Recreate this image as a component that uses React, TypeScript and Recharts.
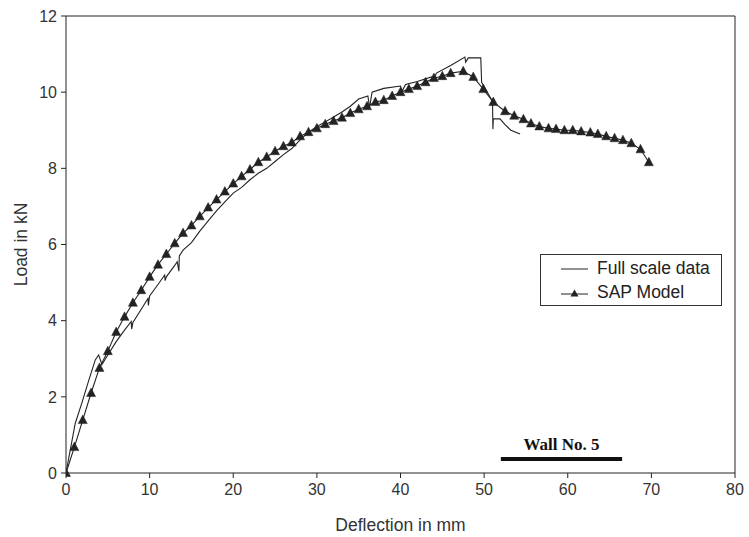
import React from 'react';
import { LineChart, Line, XAxis, YAxis, ReferenceLine } from 'recharts';

// Full scale test: deflection (mm) vs load (kN)
const fullX = [0, 1.1, 1.9, 2.75, 3.5, 3.9, 4.3, 5, 6, 7, 7.8, 7.85, 8, 9, 9.8, 9.85, 10, 11, 11.8, 11.85, 12, 13, 13.3, 13.5, 13.55, 14, 15, 16, 17, 18, 19, 20, 21, 22, 23, 24, 25, 26, 27, 28, 29, 30, 31, 32, 33, 34, 35, 36.1, 36.3, 36.6, 38, 40, 40.2, 40.6, 42, 43.7, 43.9, 44.3, 46, 47.7, 47.8, 48.1, 49.6, 49.7, 51, 51.05, 51.1, 51.9, 52.5, 53.2, 54.3];
const fullY = [0, 1.3, 1.84, 2.45, 2.97, 3.1, 2.85, 3.1, 3.45, 3.75, 3.98, 3.78, 3.95, 4.3, 4.58, 4.4, 4.65, 4.95, 5.2, 5.05, 5.15, 5.45, 5.55, 5.3, 5.7, 5.85, 6.05, 6.35, 6.62, 6.88, 7.12, 7.35, 7.5, 7.7, 7.87, 8.0, 8.18, 8.36, 8.52, 8.75, 8.95, 9.1, 9.22, 9.35, 9.48, 9.63, 9.82, 9.9, 9.6, 10.0, 10.1, 10.16, 10.03, 10.2, 10.28, 10.4, 10.3, 10.5, 10.7, 10.92, 10.79, 10.9, 10.9, 10.26, 9.76, 9.03, 9.3, 9.3, 9.15, 9.0, 8.9];

// SAP model
const sapX = [0, 1, 2, 3, 4, 5, 6, 7, 8, 9, 10, 11, 12, 13, 14, 15, 16, 17, 18, 19, 20, 21, 22, 23, 24, 25, 26, 27, 28, 29, 30, 31, 32, 33, 34, 35, 36, 37, 38, 39, 40, 41, 42, 43, 44, 45, 46, 47.5, 48.7, 49.9, 51.1, 52.5, 53.6, 54.7, 55.6, 56.6, 57.7, 58.6, 59.6, 60.6, 61.6, 62.7, 63.6, 64.6, 65.6, 66.6, 67.6, 68.7, 69.7];
const sapY = [0, 0.68, 1.39, 2.1, 2.76, 3.2, 3.7, 4.1, 4.47, 4.8, 5.15, 5.47, 5.75, 6.03, 6.3, 6.5, 6.74, 6.97, 7.18, 7.39, 7.6, 7.79, 7.97, 8.16, 8.3, 8.45, 8.58, 8.68, 8.84, 8.95, 9.05, 9.16, 9.24, 9.33, 9.45, 9.55, 9.63, 9.74, 9.79, 9.9, 10.0, 10.08, 10.16, 10.26, 10.37, 10.42, 10.5, 10.55, 10.4, 10.08, 9.74, 9.5, 9.38, 9.29, 9.18, 9.1, 9.05, 9.03, 9.0, 9.0, 8.97, 8.94, 8.9, 8.84, 8.79, 8.74, 8.66, 8.5, 8.16];

const xTicks = [0, 10, 20, 30, 40, 50, 60, 70, 80];
const yTicks = [0, 2, 4, 6, 8, 10, 12];

const fullData = fullX.map((x, i) => ({ x, y: fullY[i] }));
const sapData = sapX.map((x, i) => ({ x, y: sapY[i] }));

const FONT = '"Liberation Sans", Arial, sans-serif';
const INK = '#222';

const Triangle = (props: any) => {
  const { cx, cy, index } = props;
  if (cx == null || cy == null) return <g key={`t-${index}`} />;
  return (
    <path
      key={`t-${index}`}
      d={`M${cx},${cy - 5} L${cx - 4.5},${cy + 3.5} L${cx + 4.5},${cy + 3.5} Z`}
      fill={INK}
      stroke={INK}
      strokeWidth={0.5}
    />
  );
};

// legend drawn as an overlay so it doesn't eat chart space
const LegendBox = () => (
  <div style={{
    position: 'absolute', left: 540, top: 254, width: 182, height: 52,
    border: '1px solid #333', background: '#fff',
    fontFamily: FONT, fontSize: 17.5, color: INK, boxSizing: 'border-box',
    paddingTop: 2, lineHeight: 1
  }}>
    <div style={{ display: 'flex', alignItems: 'center', height: 24 }}>
      <svg width={56} height={12}>
        <line x1={20} y1={6} x2={47} y2={6} stroke={INK} strokeWidth={1} />
      </svg>
      <span>Full scale data</span>
    </div>
    <div style={{ display: 'flex', alignItems: 'center', height: 24 }}>
      <svg width={56} height={12}>
        <line x1={20} y1={7} x2={47} y2={7} stroke={INK} strokeWidth={1} />
        <path d="M33.5,2.5 L29.5,9.5 L37.5,9.5 Z" fill={INK} />
      </svg>
      <span>SAP Model</span>
    </div>
  </div>
);

export default function App() {
  return (
    <div style={{ position: 'absolute', left: 0, top: 0, width: 749, height: 537, background: '#fff' }}>
      <LineChart width={749} height={537} margin={{ top: 16, right: 14, left: 0, bottom: 0 }}>
        <XAxis
          type="number"
          dataKey="x"
          domain={[0, 80]}
          ticks={xTicks}
          allowDataOverflow
          height={64}
          stroke={INK}
          tickSize={5}
          tickMargin={6}
          tick={{ fontSize: 16, fill: '#333', fontFamily: FONT }}
          label={{ value: 'Deflection in mm', position: 'insideBottom', offset: 6, fontSize: 17.5, fill: '#333', fontFamily: FONT }}
        />
        <YAxis
          type="number"
          dataKey="y"
          domain={[0, 12]}
          ticks={yTicks}
          width={66}
          stroke={INK}
          tickSize={5}
          tickMargin={4}
          tick={{ fontSize: 16, fill: '#333', fontFamily: FONT }}
          label={{ value: 'Load in kN', angle: -90, position: 'insideLeft', offset: 21, fontSize: 17.5, fill: '#333', fontFamily: FONT, style: { textAnchor: 'middle' } }}
        />
        <ReferenceLine y={12} stroke={INK} />
        <ReferenceLine x={80} stroke={INK} />
        <ReferenceLine
          segment={[{ x: 52, y: 0.37 }, { x: 66.5, y: 0.37 }]}
          stroke="#111"
          strokeWidth={4}
          label={{ value: 'Wall  No. 5', position: 'top', offset: 9, fontSize: 17, fontWeight: 'bold', fill: '#111', fontFamily: '"Liberation Serif", "Times New Roman", serif' }}
        />
        <Line
          data={fullData}
          dataKey="y"
          name="Full scale data"
          type="linear"
          stroke={INK}
          strokeWidth={1.1}
          dot={false}
          isAnimationActive={false}
        />
        <Line
          data={sapData}
          dataKey="y"
          name="SAP Model"
          type="linear"
          stroke={INK}
          strokeWidth={1.1}
          dot={Triangle}
          isAnimationActive={false}
        />
      </LineChart>
      <LegendBox />
    </div>
  );
}
